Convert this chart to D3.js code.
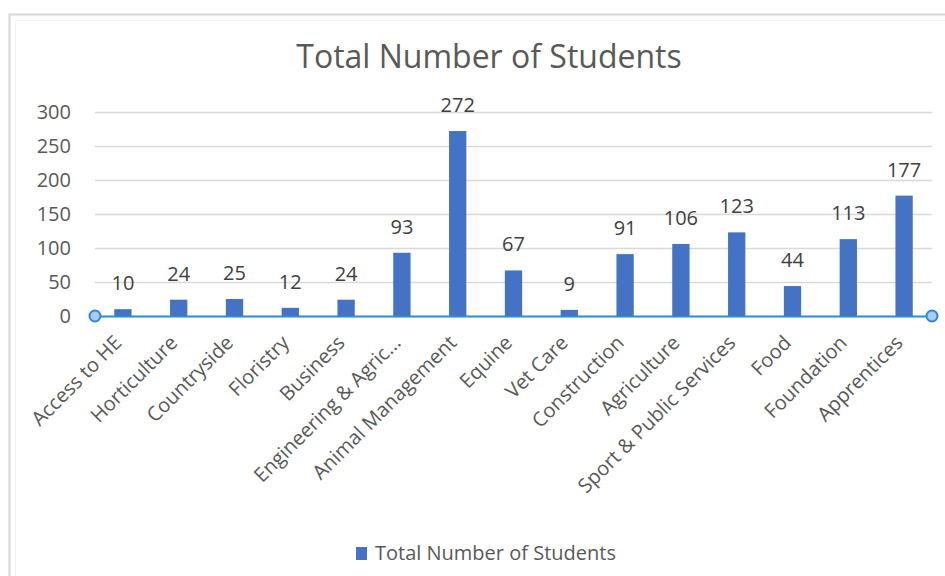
<!DOCTYPE html>
<html><head><meta charset="utf-8">
<script src="https://cdn.jsdelivr.net/npm/d3@7"></script>
<style>body{margin:0;background:#fff}svg{display:block}text{font-family:"Open Sans",sans-serif}</style>
</head><body><svg id="c" width="945" height="576"></svg>
<script>
const categories = ["Access to HE","Horticulture","Countryside","Floristry","Business","Engineering & Agric...","Animal Management","Equine","Vet Care","Construction","Agriculture","Sport & Public Services","Food","Foundation","Apprentices"];
const values = [10,24,25,12,24,93,272,67,9,91,106,123,44,113,177];
const yTicks = [0,50,100,150,200,250,300];
const seriesName = "Total Number of Students";
const title = "Total Number of Students";

const svg = d3.select("#c");
const txt = "#595959";
// outer frame
svg.append("rect").attr("x",9.5).attr("y",14.5).attr("width",960).attr("height",600)
  .attr("fill","none").attr("stroke","#d6d6d6").attr("stroke-width",2);
svg.append("rect").attr("x",15.5).attr("y",20.5).attr("width",960).attr("height",600)
  .attr("fill","none").attr("stroke","#f2f2f2").attr("stroke-width",1);

const L=95, R=932, T=112, B=316;
const x = d3.scaleBand().domain(categories).range([L,R]).paddingInner(0.69).paddingOuter(0.345);
const y = d3.scaleLinear().domain([0,300]).range([B,T]);

svg.append("text").attr("x",489).attr("y",68).attr("text-anchor","middle")
  .attr("font-size",32).attr("fill",txt).text(title);

// grid
const ya = svg.append("g").attr("transform",`translate(${L},0)`)
  .call(d3.axisLeft(y).tickValues(yTicks).tickSize(-(R-L)).tickPadding(24));
ya.select(".domain").remove();
ya.selectAll(".tick line").attr("stroke","#d9d9d9").attr("stroke-width",1.3);
ya.selectAll(".tick text").attr("font-size",20).attr("fill",txt).attr("font-family","Open Sans");
ya.selectAll(".tick").filter(d=>d===0).select("line").remove();

// bars
svg.append("g").selectAll("rect").data(values).join("rect")
  .attr("x",(d,i)=>x(categories[i])).attr("width",x.bandwidth())
  .attr("y",d=>y(d)).attr("height",d=>B-y(d)).attr("fill","#4472c4");

// value labels
svg.append("g").selectAll("text").data(values).join("text")
  .attr("x",(d,i)=>x(categories[i])+x.bandwidth()/2).attr("y",d=>y(d)-19)
  .attr("text-anchor","middle").attr("font-size",20).attr("fill","#404040").text(d=>d);

// x axis
const xa = svg.append("g").attr("transform",`translate(0,${B})`)
  .call(d3.axisBottom(x).tickSize(0).tickPadding(0));
xa.select(".domain").attr("stroke","#2e86de").attr("stroke-width",2);
xa.selectAll(".tick text").attr("font-size",20).attr("fill",txt).attr("font-family","Open Sans")
  .attr("text-anchor","end").attr("dy",0)
  .attr("transform","translate(0,28) rotate(-45)");
[L,R].forEach(cx=>svg.append("circle").attr("cx",cx).attr("cy",B).attr("r",5.5)
  .attr("fill","#a9cdef").attr("stroke","#2e86de").attr("stroke-width",2));

// legend
const lg = svg.append("g").attr("transform","translate(356,547)");
lg.append("rect").attr("width",11).attr("height",13).attr("fill","#4472c4");
lg.append("text").attr("x",19).attr("y",13).attr("font-size",20).attr("fill",txt).text(seriesName);
</script></body></html>
